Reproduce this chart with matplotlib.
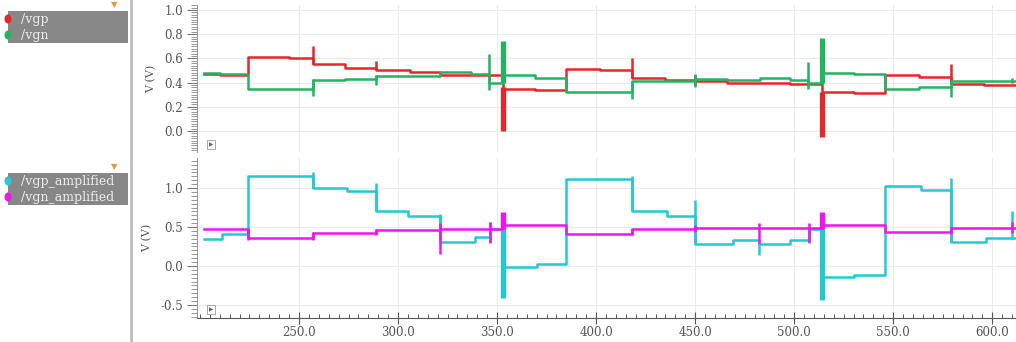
import matplotlib
matplotlib.use('Agg')
import matplotlib.pyplot as plt
from matplotlib.ticker import MultipleLocator, FormatStrFormatter
from matplotlib.patches import Rectangle, Ellipse

x_end = 612

vgp_x = [202, 210, 224, 245, 257, 273, 289, 306, 321, 337, 353, 369, 385, 402, 418, 435,
         450, 466, 482, 498, 514, 530, 546, 563, 579, 596, x_end]
vgp_y = [0.47, 0.46, 0.61, 0.60, 0.55, 0.52, 0.50, 0.49, 0.46, 0.46, 0.35, 0.34, 0.51, 0.50,
         0.44, 0.42, 0.41, 0.40, 0.40, 0.39, 0.32, 0.31, 0.46, 0.45, 0.39, 0.38, 0.38]
vgp_spk = [(257, 0.55, 0.70), (289, 0.50, 0.58), (418, 0.44, 0.60), (450, 0.38, 0.46),
           (579, 0.39, 0.55)]
vgp_big = [(353, 0.00, 0.36), (514, -0.05, 0.32)]

vgn_x = [202, 210, 224, 257, 273, 289, 321, 337, 346, 353, 369, 385, 418, 435, 450, 466,
         483, 498, 507, 514, 530, 546, 563, 579, x_end]
vgn_y = [0.48, 0.47, 0.35, 0.42, 0.43, 0.455, 0.49, 0.47, 0.40, 0.46, 0.44, 0.32, 0.41, 0.41,
         0.43, 0.42, 0.44, 0.42, 0.40, 0.48, 0.47, 0.35, 0.36, 0.41, 0.41]
vgn_spk = [(257, 0.29, 0.43), (289, 0.38, 0.46), (346, 0.34, 0.64), (418, 0.26, 0.41),
           (450, 0.36, 0.47), (507, 0.35, 0.57), (579, 0.28, 0.41), (610, 0.40, 0.44)]
vgn_big = [(353, 0.40, 0.74), (514, 0.40, 0.77)]

ampp_x = [202, 211, 224, 257, 274, 289, 305, 321, 339, 346.5, 353, 370, 385, 418, 436, 450,
          469, 482, 498, 507.5, 514, 530, 546, 564, 579, 597, x_end]
ampp_y = [0.35, 0.41, 1.15, 1.00, 0.96, 0.71, 0.64, 0.31, 0.37, 0.47, -0.01, 0.03, 1.11, 0.71,
          0.64, 0.28, 0.33, 0.28, 0.33, 0.48, -0.14, -0.12, 1.02, 0.97, 0.31, 0.36, 0.36]
ampp_spk = [(257, 1.00, 1.20), (289, 0.71, 1.07), (321, 0.31, 0.67), (346.5, 0.31, 0.56),
            (418, 0.71, 1.16), (450, 0.28, 0.85), (482, 0.14, 0.33), (507.5, 0.33, 0.48),
            (579, 0.31, 1.13), (610, 0.34, 0.70)]
ampp_big = [(353, -0.41, 0.47), (514, -0.43, 0.48)]

ampn_x = [202, 224, 257, 289, 321, 353, 385, 418, 450, 514, 546, 579, x_end]
ampn_y = [0.48, 0.36, 0.42, 0.46, 0.47, 0.53, 0.41, 0.47, 0.49, 0.53, 0.44, 0.49, 0.49]
ampn_spk = [(224, 0.33, 0.48), (257, 0.33, 0.44), (289, 0.40, 0.47), (321, 0.15, 0.55),
            (346.5, 0.29, 0.56), (418, 0.40, 0.48), (450, 0.44, 0.53), (482, 0.29, 0.55),
            (507.5, 0.29, 0.55), (579, 0.41, 0.50), (610, 0.42, 0.56)]
ampn_big = [(353, 0.47, 0.69), (514, 0.48, 0.69)]

xticks = [250, 300, 350, 400, 450, 500, 550, 600]

RED = '#e8242c'
GREEN = '#22b462'
CYAN = '#22c8d2'
MAGENTA = '#f014f0'
TXT = '#555555'
SERIF = 'DejaVu Serif'

W, H = 1016, 342
fig = plt.figure(figsize=(W / 100, H / 100), dpi=100)

# overlay in pixel coords for the left-hand legend panel
ov = fig.add_axes([0, 0, 1, 1], zorder=0)
ov.set_xlim(0, W)
ov.set_ylim(H, 0)
ov.axis('off')
ov.plot([131, 131], [0, H], color='#bdbdbd', lw=2)
for y0, names, cols in [(11, ['/vgp', '/vgn'], [RED, GREEN]),
                        (173, ['/vgp_amplified', '/vgn_amplified'], [CYAN, MAGENTA])]:
    ov.add_patch(Rectangle((8, y0), 120, 32, facecolor='#878787', edgecolor='none'))
    for k, (nm, c) in enumerate(zip(names, cols)):
        yy = y0 + 8 + k * 16
        ov.add_patch(Ellipse((8, yy), 7, 9, facecolor=c, edgecolor='none'))
        ov.text(21, yy, nm, color='#ececec', fontsize=9, family=SERIF, va='center', ha='left')
    ov.text(114, y0 - 6, '\u25bc', color='#e39a3c', fontsize=6, ha='center', va='center')

L, R = 197, 1016
ax1 = fig.add_axes([L / W, 1 - 152 / H, (R - L) / W, 147 / H], zorder=2)
ax2 = fig.add_axes([L / W, 1 - 318 / H, (R - L) / W, 160 / H], zorder=2)


def draw(ax, xs, ys, spk, big, col, z):
    ax.step(xs, ys, where='post', color=col, lw=1.8, zorder=z)
    for sx, lo, hi in spk:
        ax.vlines(sx, lo, hi, color=col, lw=1.8, zorder=z)
    for sx, lo, hi in big:
        ax.vlines(sx, lo, hi, color=col, lw=3.8, zorder=z)


draw(ax1, vgp_x, vgp_y, vgp_spk, vgp_big, RED, 3)
draw(ax1, vgn_x, vgn_y, vgn_spk, vgn_big, GREEN, 4)
draw(ax2, ampp_x, ampp_y, ampp_spk, ampp_big, CYAN, 3)
draw(ax2, ampn_x, ampn_y, ampn_spk, ampn_big, MAGENTA, 4)

ax1.set_ylim(-0.174, 1.041)
ax2.set_ylim(-0.667, 1.385)
ax1.yaxis.set_major_locator(MultipleLocator(0.2))
ax1.yaxis.set_minor_locator(MultipleLocator(0.02))
ax2.yaxis.set_major_locator(MultipleLocator(0.5))
ax2.yaxis.set_minor_locator(MultipleLocator(0.05))

for ax in (ax1, ax2):
    ax.set_xlim(198.5, 612)
    ax.set_xticks(xticks)
    ax.xaxis.set_minor_locator(MultipleLocator(5))
    ax.xaxis.set_major_formatter(FormatStrFormatter('%.1f'))
    ax.yaxis.set_major_formatter(FormatStrFormatter('%.1f'))
    ax.grid(True, which='major', color='#ebebeb', lw=0.8)
    ax.set_axisbelow(True)
    for s in ('top', 'right'):
        ax.spines[s].set_visible(False)
    ax.spines['left'].set_color('#9a9a9a')
    ax.spines['left'].set_linewidth(0.8)
    ax.tick_params(axis='y', which='major', direction='out', length=7, width=0.8,
                   color='#777777', labelsize=8.5, labelcolor=TXT, pad=3)
    ax.tick_params(axis='y', which='minor', direction='out', length=4, width=0.6,
                   color='#888888')
    for lab in ax.get_yticklabels():
        lab.set_family(SERIF)
    ax.set_ylabel('V (V)', fontsize=8, color=TXT, family=SERIF, labelpad=6)
    ax.text(0.0145, 0.035, '\u25b6', transform=ax.transAxes, fontsize=4, color='#666666',
            ha='left', va='bottom',
            bbox=dict(boxstyle='square,pad=0.35', facecolor='white', edgecolor='#999999', lw=0.6))

ax1.spines['bottom'].set_visible(False)
ax1.tick_params(axis='x', which='both', bottom=False, labelbottom=False)
ax2.spines['bottom'].set_color('#555555')
ax2.spines['bottom'].set_linewidth(0.8)
ax2.tick_params(axis='x', which='major', direction='inout', length=8, width=0.8,
                color='#555555', labelsize=8.5, labelcolor=TXT, pad=2)
ax2.tick_params(axis='x', which='minor', direction='in', length=3, width=0.7, color='#555555')
for lab in ax2.get_xticklabels():
    lab.set_family(SERIF)

fig.savefig('out.png', dpi=100)
